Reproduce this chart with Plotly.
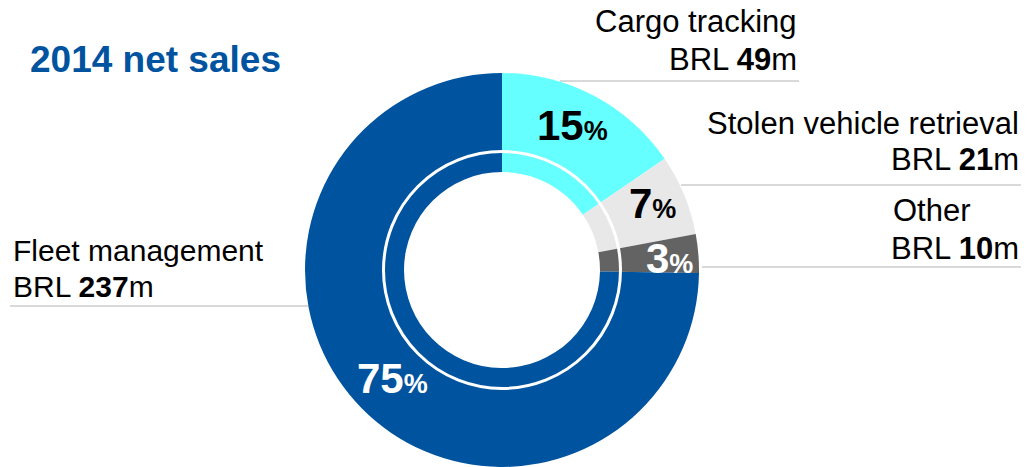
import plotly.graph_objects as go

# Net sales by business segment, 2014 (BRL millions)
segments = ["Cargo tracking", "Stolen vehicle retrieval", "Other", "Fleet management"]
net_sales_brl_m = [49, 21, 10, 237]

slice_colors = ["#66FFFF", "#E8E8E8", "#636363", "#00539F"]
pct_text_colors = ["#000000", "#000000", "#FFFFFF", "#FFFFFF"]

TITLE = "2014 net sales"
BLUE = "#00539F"
FONT = "Liberation Sans, Arial, sans-serif"

W, H = 1027, 467


def px(x):
    return x / W


def py(y):
    return 1 - y / H


# donut geometry in pixels
cx, cy, R = 502, 270, 197
HOLE_R = 98
RING_R = 118.5

total = sum(net_sales_brl_m)
shares = [round(v / total * 100) for v in net_sales_brl_m]

fig = go.Figure(
    go.Pie(
        labels=segments,
        values=net_sales_brl_m,
        sort=False,
        direction="clockwise",
        rotation=0,
        hole=HOLE_R / R,
        marker=dict(colors=slice_colors, line=dict(width=0)),
        textinfo="none",
        hoverinfo="label+value+percent",
        domain=dict(x=[px(cx - R), px(cx + R)], y=[py(cy + R), py(cy - R)]),
        showlegend=False,
    )
)

# thin white ring inside the donut
fig.add_shape(
    type="circle", xref="paper", yref="paper",
    x0=px(cx - RING_R), x1=px(cx + RING_R),
    y0=py(cy + RING_R), y1=py(cy - RING_R),
    line=dict(color="white", width=3), layer="above",
)

annotations = []

# percentage labels on the slices
pct_label_xy = [(572, 125), (652, 204), (669, 258), (392, 378)]
for share, color, (x, y) in zip(shares, pct_text_colors, pct_label_xy):
    annotations.append(dict(
        x=px(x), y=py(y), xref="paper", yref="paper",
        xanchor="center", yanchor="middle", showarrow=False,
        text=f"<b>{share}<span style='font-size:27px'>%</span></b>",
        font=dict(family=FONT, size=42, color=color),
    ))

# segment name + value labels:
# (x, name anchor, y of name line, y of value line, value anchor, font size)
seg_label_layout = [
    (799, "right", 21, 60, "right", 31),
    (1021, "right", 123, 160, "right", 31),
    (891, "left", 210, 248, "right", 31),
    (11, "left", 251, 286, "left", 30),
]
for name, val, (x, anchor, y1, y2, anchor2, size) in zip(segments, net_sales_brl_m, seg_label_layout):
    annotations.append(dict(
        x=px(x), y=py(y1), xref="paper", yref="paper",
        xanchor=anchor, yanchor="middle", showarrow=False,
        text=name, font=dict(family=FONT, size=size, color="#000000"),
    ))
    x2 = 1021 if anchor2 == "right" and anchor == "left" else x
    annotations.append(dict(
        x=px(x2), y=py(y2), xref="paper", yref="paper",
        xanchor=anchor2, yanchor="middle", showarrow=False,
        text=f"BRL <b>{val}</b>m", font=dict(family=FONT, size=size, color="#000000"),
    ))

# grey separator lines under each label
sep_lines = [(560, 799, 81), (681, 1021, 185), (702, 1021, 267), (10, 308, 306)]
for x0, x1, y in sep_lines:
    fig.add_shape(
        type="line", xref="paper", yref="paper",
        x0=px(x0), x1=px(x1), y0=py(y), y1=py(y),
        line=dict(color="#D9D9D9", width=2), layer="below",
    )

# title
annotations.append(dict(
    x=px(28), y=py(60), xref="paper", yref="paper",
    xanchor="left", yanchor="middle", showarrow=False,
    text=f"<b>{TITLE}</b>", font=dict(family=FONT, size=37, color=BLUE),
))

fig.update_layout(
    width=W, height=H,
    margin=dict(l=0, r=0, t=0, b=0),
    paper_bgcolor="white", plot_bgcolor="white",
    annotations=annotations,
    font=dict(family=FONT),
)

fig.write_html("out.html", config={"displayModeBar": False})
